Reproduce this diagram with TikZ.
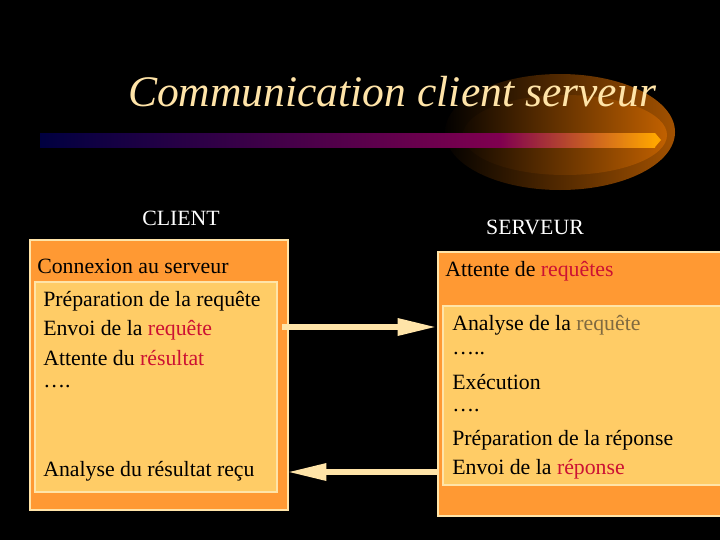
\documentclass[tikz,border=0pt]{standalone}
\usepackage{fontspec}
\newfontfamily\slidefont{LiberationSerif}[Extension=.ttf,UprightFont=*-Regular,ItalicFont=*-Italic]
\usetikzlibrary{arrows.meta}
\definecolor{cream}{HTML}{FFE4A8}
\definecolor{outer}{HTML}{FF9933}
\definecolor{inner}{HTML}{FFCC66}
\definecolor{redw}{HTML}{CC1133}
\definecolor{olive}{HTML}{806A40}
\definecolor{navy}{HTML}{000040}
\definecolor{plum}{HTML}{800050}
\tikzset{
  txt/.style={anchor=west,inner sep=0pt,font=\slidefont\fontsize{15.5}{17}\selectfont},
  box/.style={draw=cream,line width=.8pt},
  link/.style={draw=cream,line width=4.3pt,-{Triangle[length=28pt,width=11.4pt]}}
}
\begin{document}
\begin{tikzpicture}[x=0.025cm,y=-0.025cm]
\fill[black](0,0)rectangle(720,540);
\useasboundingbox(0,0)rectangle(720,540);
% glow behind the bar
\begin{scope}
\clip(560,132)ellipse(115 and 58);
\shade[left color=black,right color=orange!65!black](440,70)rectangle(680,200);
\end{scope}
\begin{scope}
\clip(565,135)ellipse(102 and 40);
\shade[left color=black,right color=orange!80!black](440,70)rectangle(680,200);
\end{scope}
\shade[left color=navy,right color=plum](40,133)rectangle(500,147);
\shade[left color=plum,right color=orange!70!yellow](500,133)rectangle(655,147);
\fill[orange!70!yellow](655,133)--(661,140)--(655,147)--cycle;
\node[font=\slidefont\fontsize{31}{33}\selectfont\itshape,text=cream](title)at(392,92){Communication client serveur};
\node[font=\slidefont\fontsize{15.5}{17}\selectfont,text=white](cl)at(181,218){CLIENT};
\node[font=\slidefont\fontsize{15.5}{17}\selectfont,text=white](sv)at(535,227){SERVEUR};
% client
\draw[box,fill=outer](30,240)rectangle(288,510);
\draw[box,fill=inner](35,282)rectangle(277,492);
\node[txt](c0)at(37,266){Connexion au serveur};
\node[txt](c1)at(43,301){Préparation de la requête};
\node[txt](c2)at(43,330){Envoi de la \textcolor{redw}{requête}};
\node[txt](c3)at(43,358){Attente du \textcolor{redw}{résultat}};
\node[txt](c4)at(43,387){….};
\node[txt](c5)at(43,471){Analyse du résultat reçu};
% serveur
\draw[box,fill=outer](438,252)rectangle(722,516);
\draw[box,fill=inner](443,306)rectangle(722,485);
\node[txt](s0)at(445,271){Attente de \textcolor{redw}{requêtes}};
\node[txt](s1)at(452,325){Analyse de la \textcolor{olive}{requête}};
\node[txt](s2)at(452,354){…..};
\node[txt](s3)at(452,382){Exécution};
\node[txt](s4)at(452,411){….};
\node[txt](s5)at(452,440){Préparation de la réponse};
\node[txt](s6)at(452,469){Envoi de la \textcolor{redw}{réponse}};
\coordinate(a1)at(282,327);
\coordinate(b1)at(437,327);
\coordinate(a2)at(438,472);
\coordinate(b2)at(287,472);
\draw[link](a1)--(b1);
\draw[link](a2)--(b2);
\end{tikzpicture}
\end{document}
